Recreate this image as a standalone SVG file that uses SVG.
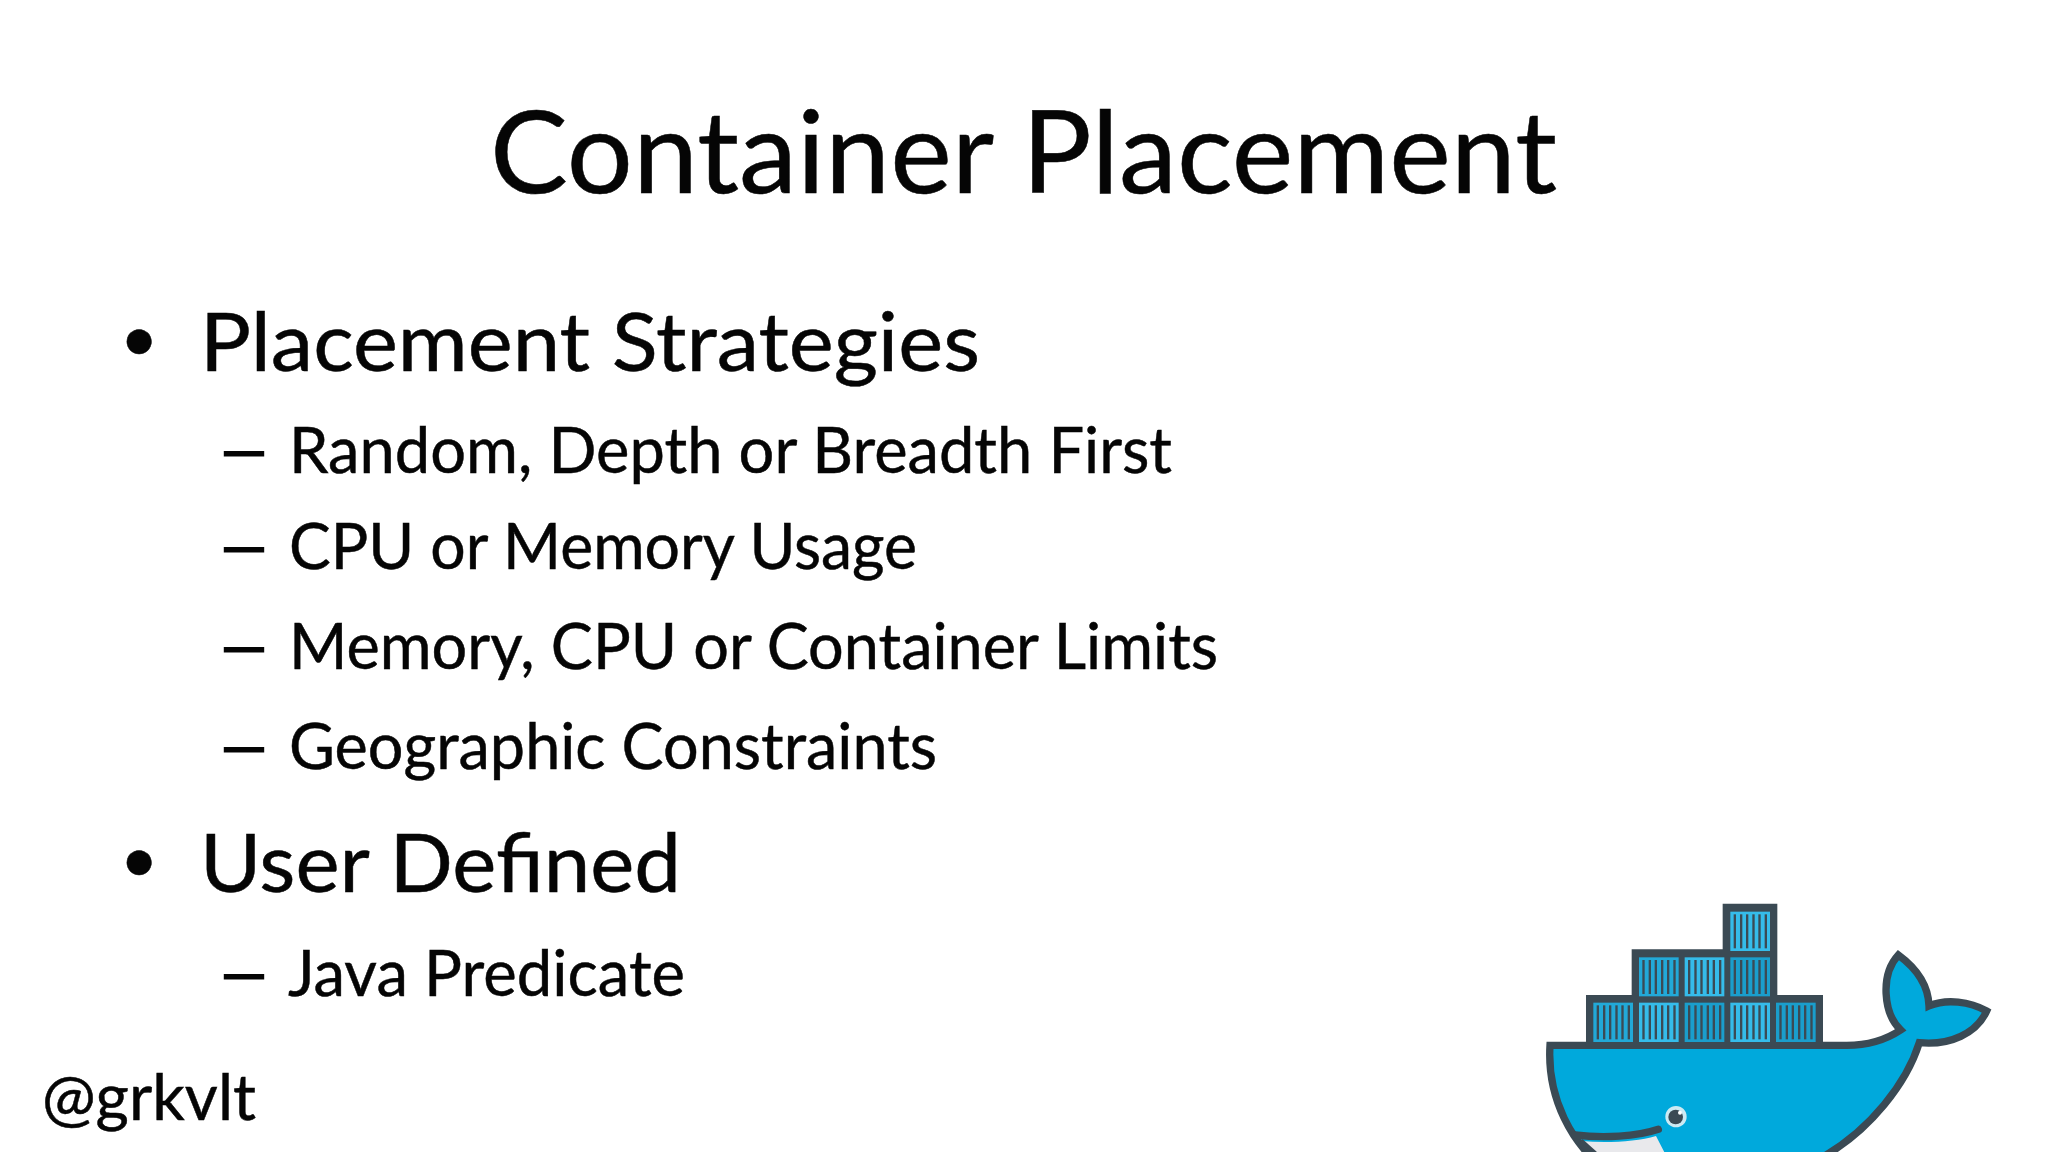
<svg xmlns="http://www.w3.org/2000/svg" xmlns:xlink="http://www.w3.org/1999/xlink" width="2048" height="1152" viewBox="0 0 2048 1152">
<style>
text{font-family:"Lato","Open Sans",sans-serif;fill:#050505;stroke:#050505;stroke-width:.5px}
.t{font-size:114px}.a{font-size:82px}.b{font-size:64px}.p{font-size:66px}
.ds{font-size:65px;stroke-width:1.2px}
.ol{fill:none;stroke:#3b4a54;stroke-width:22;stroke-linejoin:miter}
.bar{fill:#3b4a54}
.d{fill:#1a9ecc}.m{fill:#22a9d8}.l{fill:#35bcea}
</style>
<defs>
<g id="bars"><rect class="bar" x="10" y="8" width="7" height="102"/><rect class="bar" x="29" y="8" width="7" height="102"/><rect class="bar" x="47" y="8" width="7" height="102"/><rect class="bar" x="66" y="8" width="7" height="102"/><rect class="bar" x="84" y="8" width="7" height="102"/><rect class="bar" x="103" y="8" width="7" height="102"/></g>
</defs>
<rect width="2048" height="1152" fill="#fff"/>
<text class="t" x="490" y="193" textLength="1067" lengthAdjust="spacingAndGlyphs">Container Placement</text>
<text class="p" x="120" y="361">•</text>
<text class="a" x="200" y="371" textLength="780" lengthAdjust="spacingAndGlyphs">Placement Strategies</text>
<text class="ds" x="216" y="473" textLength="56" lengthAdjust="spacingAndGlyphs">–</text>
<text class="b" x="289" y="473" textLength="883" lengthAdjust="spacingAndGlyphs">Random, Depth or Breadth First</text>
<text class="ds" x="216" y="569" textLength="56" lengthAdjust="spacingAndGlyphs">–</text>
<text class="b" x="289" y="569" textLength="628" lengthAdjust="spacingAndGlyphs">CPU or Memory Usage</text>
<text class="ds" x="216" y="669" textLength="56" lengthAdjust="spacingAndGlyphs">–</text>
<text class="b" x="289" y="669" textLength="929" lengthAdjust="spacingAndGlyphs">Memory, CPU or Container Limits</text>
<text class="ds" x="216" y="769" textLength="56" lengthAdjust="spacingAndGlyphs">–</text>
<text class="b" x="289" y="769" textLength="648" lengthAdjust="spacingAndGlyphs">Geographic Constraints</text>
<text class="p" x="120" y="882">•</text>
<text class="a" x="200" y="892" textLength="481" lengthAdjust="spacingAndGlyphs">User Defined</text>
<text class="ds" x="216" y="996" textLength="56" lengthAdjust="spacingAndGlyphs">–</text>
<text class="b" x="288" y="996" textLength="397" lengthAdjust="spacingAndGlyphs">Java Predicate</text>
<text class="b" x="42" y="1120" textLength="214" lengthAdjust="spacingAndGlyphs">@grkvlt</text>
<g id="whale" transform="translate(1530 880) scale(.33333)">
<path d="M60,496 L950,496 C1020,496 1070,478 1112,450 C1060,400 1050,285 1105,225 C1150,258 1195,310 1197,378 C1250,355 1320,365 1370,393 C1340,460 1260,497 1168,488 C1130,610 1020,750 880,830 L880,860 L215,860 C130,790 50,660 60,496 Z" fill="#00a9dc" stroke="#3b4a54" stroke-width="22"/>
<path d="M155,783 C230,790 320,785 378,768 L410,830 L190,830 Z" fill="#e9e9ec"/>
<path d="M135,765 C220,775 320,770 385,748" class="ol" stroke-linecap="round"/>
<path d="M150,785 L200,830" class="ol"/>
<circle cx="438" cy="710" r="32" fill="#cdeaf3"/>
<circle cx="437" cy="711" r="22" fill="#3b4a54"/>
<circle cx="450" cy="698" r="6" fill="#fff"/>
<path d="M168,345 L305,345 L305,208 L578,208 L578,71 L742,71 L742,345 L879,345 L879,500 L168,500 Z" fill="#3b4a54"/>
<rect class="l" x="601" y="95" width="119" height="118"/><use xlink:href="#bars" x="601" y="95"/>
<rect class="m" x="327" y="232" width="119" height="117"/><use xlink:href="#bars" x="327" y="232"/>
<rect class="l" x="464" y="232" width="119" height="117"/><use xlink:href="#bars" x="464" y="232"/>
<rect class="d" x="601" y="232" width="119" height="117"/><use xlink:href="#bars" x="601" y="232"/>
<rect class="m" x="190" y="368" width="119" height="118"/><use xlink:href="#bars" x="190" y="368"/>
<rect class="l" x="327" y="368" width="119" height="118"/><use xlink:href="#bars" x="327" y="368"/>
<rect class="d" x="464" y="368" width="119" height="118"/><use xlink:href="#bars" x="464" y="368"/>
<rect class="l" x="601" y="368" width="119" height="118"/><use xlink:href="#bars" x="601" y="368"/>
<rect class="d" x="738" y="368" width="119" height="118"/><use xlink:href="#bars" x="738" y="368"/>
</g>
</svg>
